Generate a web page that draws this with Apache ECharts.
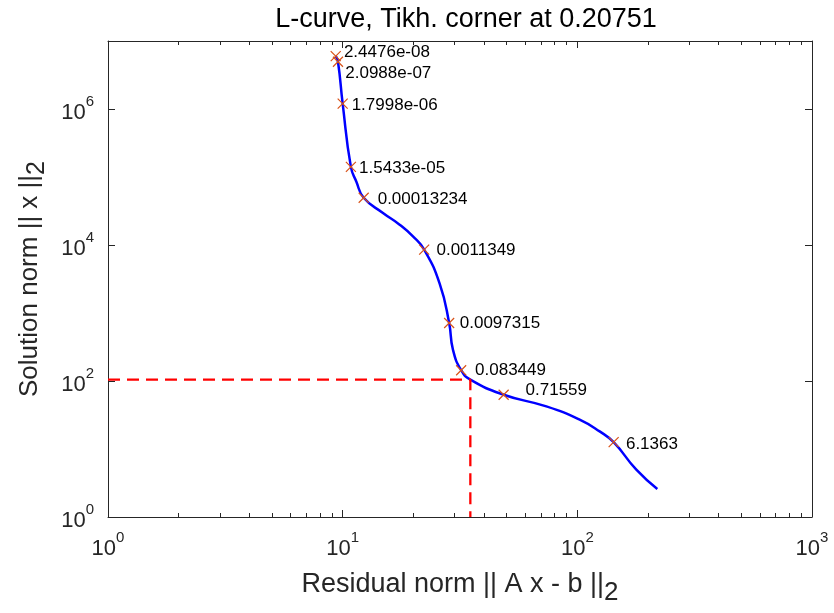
<!DOCTYPE html>
<html><head><meta charset="utf-8">
<script src="https://cdn.jsdelivr.net/npm/echarts@6/dist/echarts.min.js"></script>
<style>html,body{margin:0;padding:0;background:#fff}#c{width:834px;height:613px}</style>
</head><body><div id="c"></div>
<script>
// L-curve traced points (residual norm, solution norm)
const curveX = [9.34, 9.55, 10.0, 10.84, 11.44, 12.29, 14.85, 17.49, 19.93, 22.25, 25.9, 28.43, 29.51, 31.98, 35.0, 48.53, 73.8, 102.3, 124.5, 142.8, 178.4, 219.2];
const curveY = [6.0e6, 4.96e6, 1.197e6, 1.408e5, 8.53e4, 4.96e4, 2.955e4, 1.989e4, 1.338e4, 8531, 2698, 713, 288.5, 144.1, 104.5, 62.87, 42.3, 26.98, 18.15, 12.59, 4.96, 2.58];
// marked regularization parameters
const markX = [9.34, 9.55, 10.0, 10.84, 12.29, 22.25, 28.43, 31.98, 48.53, 142.8];
const markY = [6.0e6, 4.96e6, 1.197e6, 1.408e5, 4.96e4, 8531, 713, 144.1, 62.87, 12.59];
const regParams = ['2.4476e-08', '2.0988e-07', '1.7998e-06', '1.5433e-05', '0.00013234', '0.0011349', '0.0097315', '0.083449', '0.71559', '6.1363'];
// corner
const cornerX = 35.0;
const cornerY = 104.5;
const cornerParam = '0.20751';
// axes
const xMin = 1, xMax = 1000, yMin = 1, yMax = 1e7;
const xMajorTicks = [1, 10, 100, 1000];
const xMinorTicks = [2,3,4,5,6,7,8,9,20,30,40,50,60,70,80,90,200,300,400,500,600,700,800,900];
const yMajorTicks = [1, 100, 1e4, 1e6];

// label layout (styling, not data)
const labelOffsets = [[2.6,-4],[1.7,11.6],[3.4,1.7],[2.6,1.6],[8.4,1.7],[6.7,1],[5,0.7],[8.3,0],[16.3,-4.3],[6.7,1.7]];

const FONT = '"Liberation Sans", Arial, Helvetica, sans-serif';
const AX = '#262626';
const supRich = {
  b: {fontSize: 22, fontFamily: FONT, color: AX, verticalAlign: 'bottom', lineHeight: 30},
  s: {fontSize: 15, fontFamily: FONT, color: AX, verticalAlign: 'top', lineHeight: 30}
};
function powFmt(v) {
  const e = Math.round(Math.log10(v));
  return '{b|10}{s|' + e + '}';
}
function baseAxis(extra) {
  return Object.assign({
    type: 'log', logBase: 10, gridIndex: 0,
    axisLine: {show: true, lineStyle: {color: AX, width: 1}},
    splitLine: {show: false}, minorSplitLine: {show: false}
  }, extra);
}

const chart = echarts.init(document.getElementById('c'));
chart.setOption({
  animation: false,
  backgroundColor: '#fff',
  title: {
    text: 'L-curve, Tikh. corner at ' + cornerParam,
    left: 461, top: 1, textAlign: 'center',
    textStyle: {fontFamily: FONT, fontSize: 27, fontWeight: 'normal', color: '#000'}
  },
  grid: {left: 108, top: 41, right: 22, bottom: 96, containLabel: false},
  xAxis: [
    baseAxis({min: xMin, max: xMax, position: 'bottom',
      axisTick: {inside: true, length: 7, lineStyle: {color: AX}, customValues: xMajorTicks},
      axisLabel: {margin: 13, formatter: powFmt, rich: supRich, customValues: xMajorTicks},
      name: 'Residual norm || A x - b ||{sub|2}', nameLocation: 'middle', nameGap: 47,
      nameTextStyle: {fontFamily: FONT, fontSize: 27, color: AX,
        rich: {sub: {fontSize: 26, fontFamily: FONT, color: AX, padding: [16, 0, 0, 0]}}}
    }),
    baseAxis({min: xMin, max: xMax, position: 'top',
      axisTick: {inside: true, length: 7, lineStyle: {color: AX}, customValues: xMajorTicks},
      axisLabel: {show: false}}),
    baseAxis({min: xMin, max: xMax, position: 'bottom', axisLine: {show: false},
      axisTick: {inside: true, length: 4, lineStyle: {color: AX}, customValues: xMinorTicks},
      axisLabel: {show: false}}),
    baseAxis({min: xMin, max: xMax, position: 'top', axisLine: {show: false},
      axisTick: {inside: true, length: 4, lineStyle: {color: AX}, customValues: xMinorTicks},
      axisLabel: {show: false}})
  ],
  yAxis: [
    baseAxis({min: yMin, max: yMax, position: 'left',
      axisTick: {inside: true, length: 7, lineStyle: {color: AX}, customValues: yMajorTicks},
      axisLabel: {margin: 14, formatter: powFmt, rich: supRich, customValues: yMajorTicks},
      name: 'Solution norm || x ||{sub|2}', nameLocation: 'middle', nameGap: 58,
      nameTextStyle: {fontFamily: FONT, fontSize: 26, color: AX,
        rich: {sub: {fontSize: 25, fontFamily: FONT, color: AX, padding: [16, 0, 0, 0]}}}
    }),
    baseAxis({min: yMin, max: yMax, position: 'right',
      axisTick: {inside: true, length: 7, lineStyle: {color: AX}, customValues: yMajorTicks},
      axisLabel: {show: false}})
  ],
  series: [
    {
      type: 'line', xAxisIndex: 0, yAxisIndex: 0,
      data: curveX.map((x, i) => [x, curveY[i]]),
      showSymbol: false, smooth: 0.5,
      lineStyle: {color: '#0000FF', width: 2.5}, z: 2
    },
    {
      type: 'scatter', xAxisIndex: 0, yAxisIndex: 0,
      data: markX.map((x, i) => ({
        value: [x, markY[i]],
        label: {offset: labelOffsets[i]}
      })),
      symbol: 'path://M0,0L10,10M10,0L0,10', symbolSize: 10,
      itemStyle: {color: '#D95319', borderColor: '#D95319', borderWidth: 1.2, opacity: 1},
      label: {
        show: true, position: 'right', distance: 0,
        formatter: p => regParams[p.dataIndex],
        fontFamily: FONT, fontSize: 17, color: '#000'
      },
      z: 3
    },
    {
      type: 'line', xAxisIndex: 0, yAxisIndex: 0,
      data: [[xMin, cornerY], [cornerX, cornerY], [cornerX, yMin]],
      showSymbol: false,
      lineStyle: {color: '#FF0000', width: 2.3, type: [12, 7]}, z: 4
    }
  ]
});
</script>
</body></html>
